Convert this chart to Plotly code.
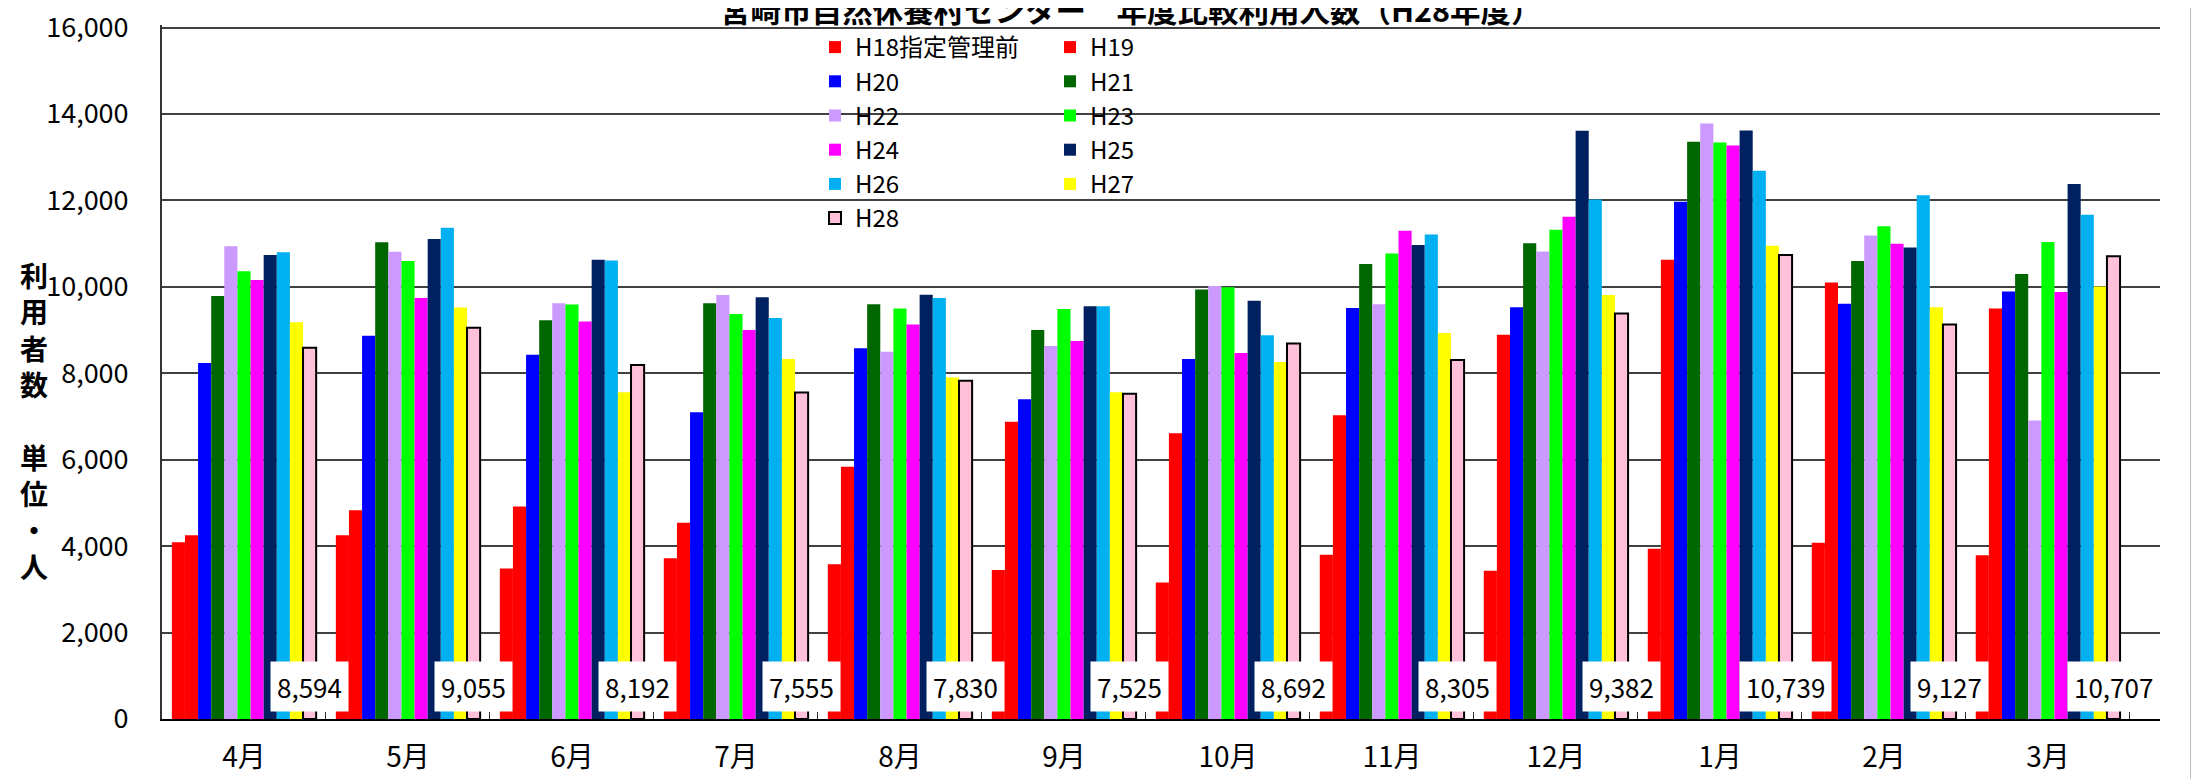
import plotly.graph_objects as go

months = ["4月", "5月", "6月", "7月", "8月", "9月", "10月", "11月", "12月", "1月", "2月", "3月"]
series_names = ["H18指定管理前", "H19", "H20", "H21", "H22", "H23", "H24", "H25", "H26", "H27", "H28"]

h18 = [4090, 4250, 3480, 3720, 3580, 3450, 3160, 3800, 3430, 3940, 4080, 3790]
h19 = [4250, 4830, 4920, 4540, 5840, 6880, 6610, 7030, 8890, 10630, 10100, 9500]
h20 = [8240, 8870, 8430, 7100, 8580, 7400, 8330, 9510, 9530, 11970, 9610, 9890]
h21 = [9790, 11030, 9230, 9620, 9600, 9000, 9940, 10530, 11010, 13360, 10600, 10300]
h22 = [10940, 10810, 9620, 9810, 8500, 8630, 10020, 9600, 10820, 13780, 11190, 6910]
h23 = [10360, 10600, 9590, 9370, 9500, 9490, 9990, 10770, 11320, 13340, 11400, 11040]
h24 = [10160, 9740, 9200, 9000, 9130, 8750, 8470, 11300, 11620, 13270, 11000, 9880]
h25 = [10740, 11110, 10630, 9760, 9820, 9550, 9680, 10970, 13610, 13620, 10910, 12380]
h26 = [10800, 11370, 10610, 9280, 9740, 9550, 8880, 11210, 12020, 12690, 12120, 11670]
h27 = [9180, 9520, 7560, 8330, 7900, 7560, 8260, 8930, 9810, 10950, 9530, 10010]
h28 = [8594, 9055, 8192, 7555, 7830, 7525, 8692, 8305, 9382, 10739, 9127, 10707]

y_ticks = [0, 2000, 4000, 6000, 8000, 10000, 12000, 14000, 16000]

series_values = [h18, h19, h20, h21, h22, h23, h24, h25, h26, h27, h28]
colors = ["#FF0000", "#FF0000", "#0000FF", "#006600", "#CC99FF", "#00FF00",
          "#FF00FF", "#002060", "#00B0F0", "#FFFF00", "#FFC1DA"]

title_text = "宮崎市自然休養村センター　年度比較利用人数（H28年度）"
ytitle_chars = ["利", "用", "者", "数", "", "単", "位", "・", "人"]

FONT = "Noto Sans CJK JP"
BARGAP = 0.12
W, H = 2199, 779
ML, MR, MT, MB = 154, 47, 17, 68
PW = W - ML - MR
PH = H - MT - MB
Y_MAX = 16060


def py(pixel_y):
    """paper y for an absolute pixel row"""
    return (H - MB - pixel_y) / PH


def px(pixel_x):
    """paper x for an absolute pixel column"""
    return (pixel_x - ML) / PW


fig = go.Figure()
n = len(series_names)
for k, (name, vals, col) in enumerate(zip(series_names, series_values, colors)):
    is_last = (k == n - 1)
    fig.add_trace(go.Bar(
        x=months, y=vals, name=name,
        marker=dict(color=col,
                    line=dict(color="#000000" if is_last else col,
                              width=2 if is_last else 0)),
        legend="legend" if k % 2 == 0 else "legend2",
    ))

# data labels for H28 (last series), centred on its bar
offset = ((n - 1) / 2) * (1 - BARGAP) / n
for i, v in enumerate(h28):
    fig.add_annotation(
        x=i + offset, y=0, xref="x", yref="y",
        text=f"{v:,}", showarrow=False,
        xanchor="center", yanchor="bottom", yshift=7,
        bgcolor="#FFFFFF", borderpad=6,
        font=dict(family=FONT, size=26, color="#000000"),
    )

# chart title (partly cut at top like reference)
fig.add_annotation(
    x=px(1123), y=py(1), xref="paper", yref="paper",
    text="<b>" + title_text + "</b>", showarrow=False,
    xanchor="center", yanchor="middle",
    font=dict(family=FONT, size=30.5, color="#000000"),
)

# vertical y-axis title
fig.add_annotation(
    x=px(26), y=py(412), xref="paper", yref="paper",
    text="<b>" + "<br>".join(c if c else " " for c in ytitle_chars) + "</b>",
    showarrow=False, xanchor="center", yanchor="middle",
    font=dict(family=FONT, size=28, color="#000000"),
)

# white background behind legend (hides gridlines)
fig.add_shape(
    type="rect", xref="paper", yref="paper",
    x0=px(816), x1=px(1288), y0=py(232), y1=py(22),
    fillcolor="#FFFFFF", line=dict(width=0), layer="between",
)

# outer chart border on the right
fig.add_shape(
    type="line", xref="paper", yref="paper",
    x0=px(2184), x1=px(2184), y0=py(H + 2), y1=py(-2),
    line=dict(color="#000000", width=2.5), layer="above",
)

legend_common = dict(
    font=dict(family=FONT, size=24, color="#000000"),
    bgcolor="rgba(0,0,0,0)", borderwidth=0,
    xanchor="left", yanchor="top", tracegroupgap=0,
    itemclick=False, itemdoubleclick=False,
)

fig.update_layout(
    width=W, height=H,
    margin=dict(l=ML, r=MR, t=MT, b=MB, autoexpand=False),
    paper_bgcolor="#FFFFFF", plot_bgcolor="#FFFFFF",
    barmode="group", bargap=BARGAP, bargroupgap=0,
    font=dict(family=FONT, color="#000000"),
    showlegend=True,
    legend=dict(x=px(807), y=py(17), **legend_common),
    legend2=dict(x=px(1042), y=py(17), **legend_common),
    xaxis=dict(
        type="category", showgrid=False, showline=True,
        linecolor="#000000", linewidth=2,
        ticks="inside", tickson="boundaries", ticklen=7,
        tickcolor="#333333", tickwidth=1,
        tickfont=dict(family=FONT, size=28, color="#000000"),
        ticklabelstandoff=12, fixedrange=True,
    ),
    yaxis=dict(
        range=[0, Y_MAX], tickmode="array", tickvals=y_ticks,
        ticktext=[f"{t:,}" for t in y_ticks],
        showgrid=True, gridcolor="#404040", gridwidth=1.5,
        showline=True, linecolor="#333333", linewidth=2,
        ticks="", zeroline=False, ticklabeloverflow="allow",
        tickfont=dict(family=FONT, size=27, color="#000000"),
        ticklabelstandoff=26, fixedrange=True,
    ),
)

fig.write_html("out.html")
